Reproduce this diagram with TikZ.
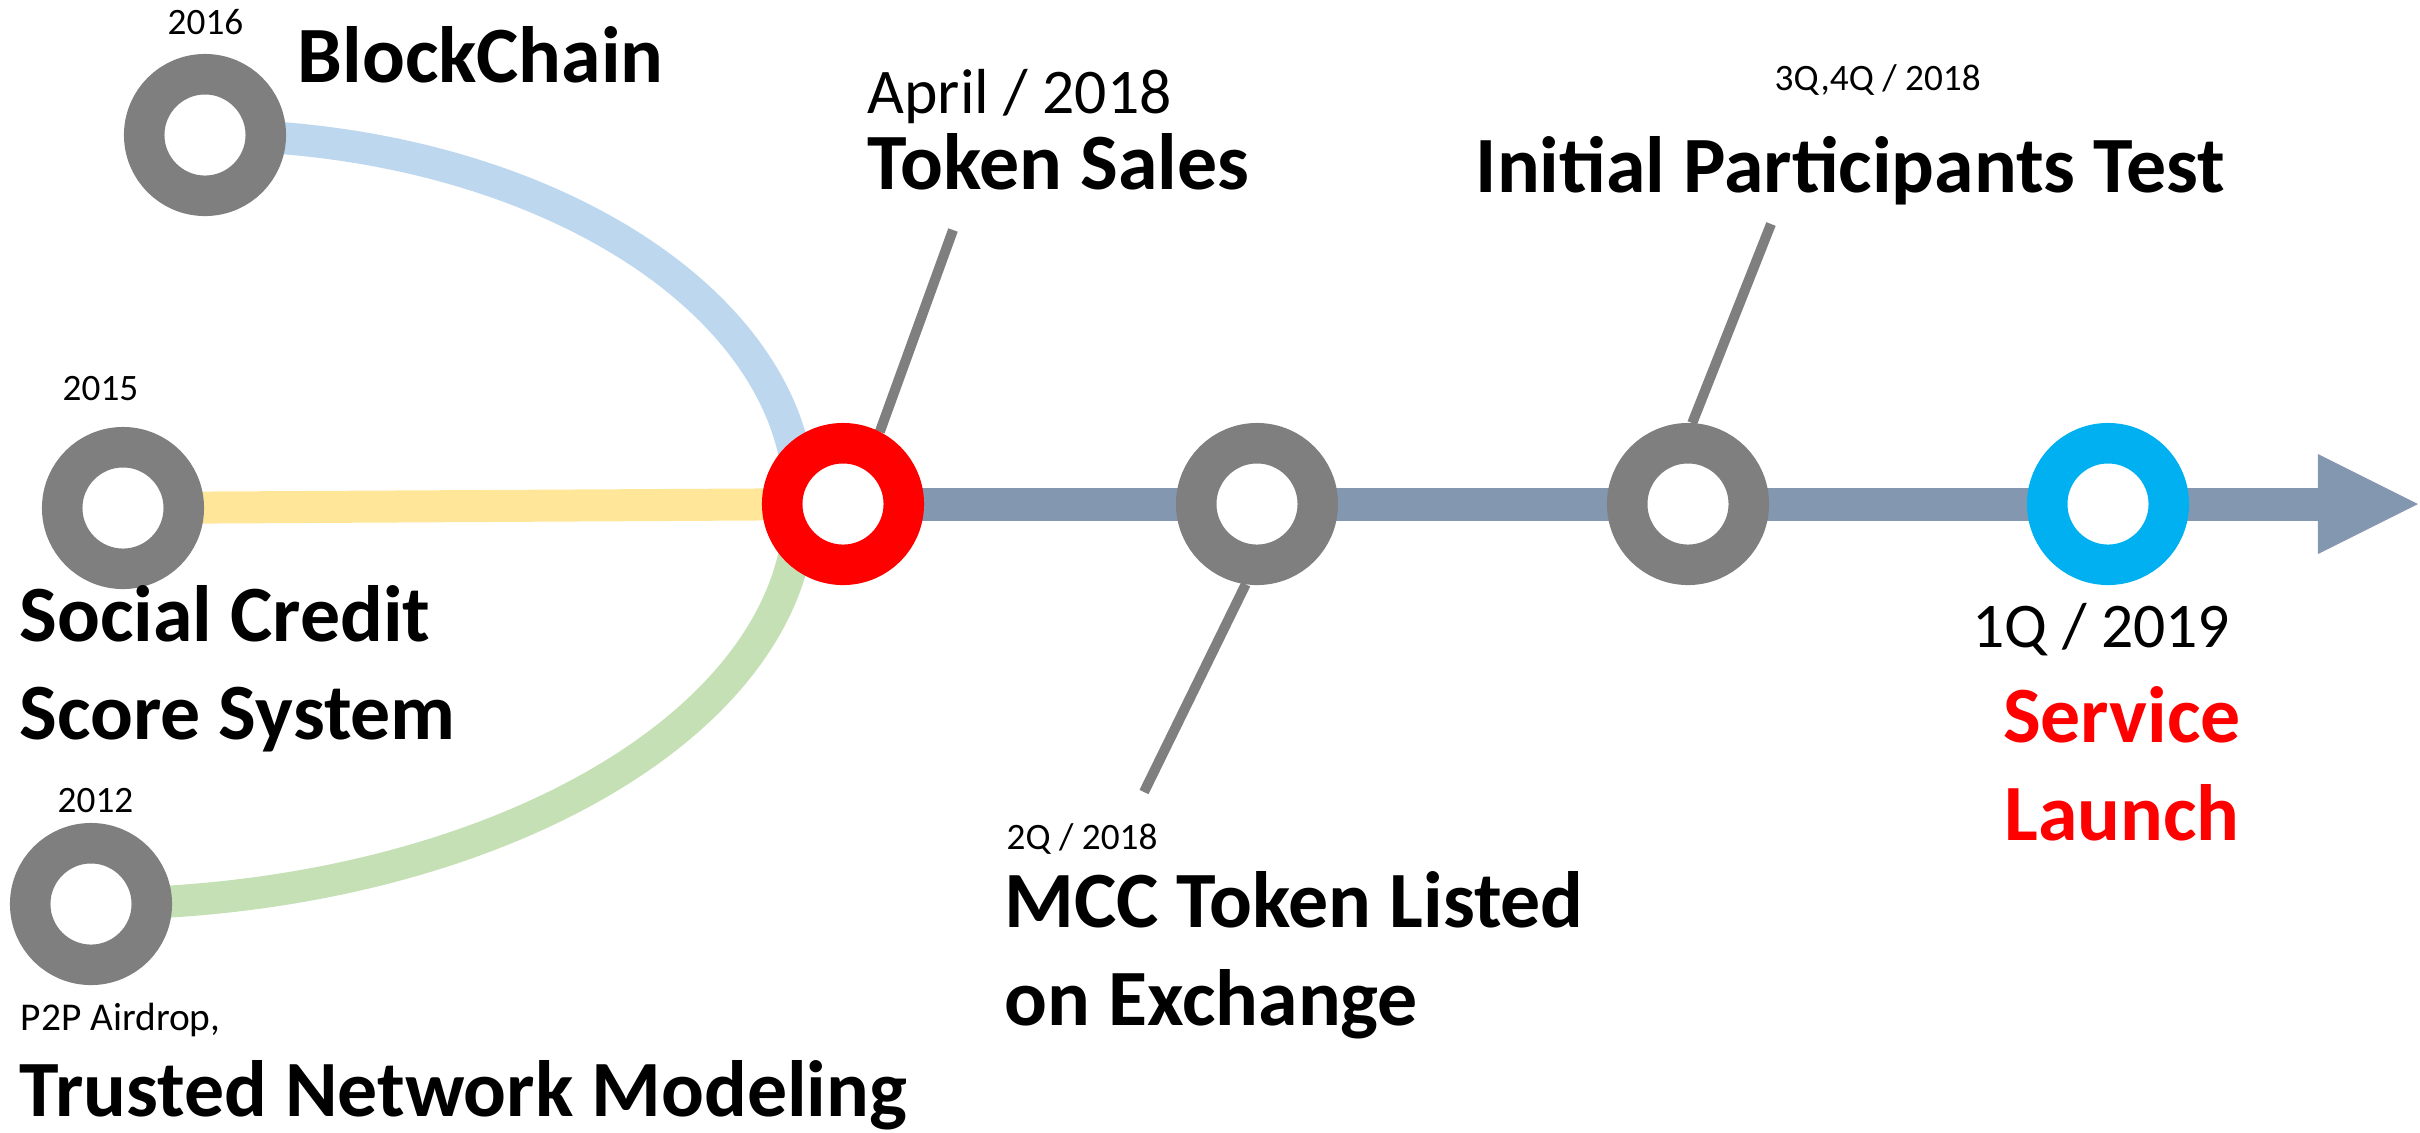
\documentclass[tikz,border=0pt]{standalone}
\usepackage{fontspec}
\setmainfont{Carlito}
\usepackage[dvipsnames]{xcolor}
\usepackage{tikz}
\usetikzlibrary{arrows.meta,backgrounds}

\definecolor{ringgray}{HTML}{7F7F7F}
\definecolor{ringred}{HTML}{FF0000}
\definecolor{ringcyan}{HTML}{00B0F0}
\definecolor{lineblue}{HTML}{BDD7EE}
\definecolor{lineyellow}{HTML}{FFE699}
\definecolor{linegreen}{HTML}{C5E0B4}
\definecolor{timeline}{HTML}{8497B0}

\tikzset{
  ring/.style={circle, draw=ringgray, fill=white, line width=0.405cm, minimum size=1.215cm, inner sep=0pt},
  track/.style={line width=0.32cm},
  leader/.style={draw=ringgray, line width=0.1cm},
  title/.style={font=\bfseries\fontsize{22.7}{27.6}\selectfont, inner sep=0pt, anchor=base west, align=left},
  date/.style={font=\fontsize{18.1}{22}\selectfont, inner sep=0pt, anchor=base west},
  year/.style={font=\fontsize{10.6}{13}\selectfont, inner sep=0pt, anchor=base west},
}

\begin{document}
\begin{tikzpicture}[x=0.01cm, y=-0.01cm]
    \useasboundingbox (0,0) rectangle (2420,1132);
    % stations
    \node[ring] (blockchain) at (205,135) {};
    \node[ring] (social) at (123,508) {};
    \node[ring] (airdrop) at (91,904) {};
    \node[ring, draw=ringred] (sales) at (843,504) {};
    \node[ring] (listing) at (1257,504) {};
    \node[ring] (test) at (1688,504) {};
    \node[ring, draw=ringcyan] (launch) at (2108,504) {};
    \coordinate (merge) at (800,504);
    \coordinate (arrowtip) at (2418,504);
    \coordinate (salesend) at (953,230);
    \coordinate (listingend) at (1144,792);
    \coordinate (testend) at (1771,224);

    \begin{pgfonlayer}{background}
        \draw[track, lineblue] (blockchain.center) .. controls +(328,0) and +(0,-204) .. (merge);
        \draw[track, linegreen] (airdrop.center) .. controls +(391,0) and +(0,221) .. (merge);
        \draw[track, lineyellow] (social.center) -- (sales.center);
        \draw[track, timeline, line width=0.33cm, -{Triangle[length=1cm, width=1cm, line width=0pt]}] (sales.center) -- (arrowtip);
        \draw[leader] (sales.63) -- (salesend);
        \draw[leader] (listing.-98) -- (listingend);
        \draw[leader] (test.87) -- (testend);
    \end{pgfonlayer}

    % labels
    \node[year] (y2016) at (167,34) {2016};
    \node[title] (bctext) at (297,82) {BlockChain};
    \node[year] (y2015) at (62,400) {2015};
    \node[title] (socialtext) at (19,739) {Social Credit\\Score System};
    \node[year] (y2012) at (57,812) {2012};
    \node[year, font=\fontsize{11.2}{13}\selectfont] (airdroptext) at (20,1030) {P2P Airdrop,};
    \node[title] (networktext) at (19,1116) {Trusted Network Modeling};
    \node[date] (salesdate) at (867,113) {April / 2018};
    \node[title] (salestext) at (867,189) {Token Sales};
    \node[year] (testdate) at (1774,90) {3Q,4Q / 2018};
    \node[title] (testtext) at (1475,192) {Initial Participants Test};
    \node[year] (listingdate) at (1006,849) {2Q / 2018};
    \node[title] (listingtext) at (1004,1025) {MCC Token Listed\\on Exchange};
    \node[date] (launchdate) at (1972,647) {1Q / 2019};
    \node[title, anchor=base, align=center, text=ringred] (launchtext) at (2122,840) {Service\\Launch};
\end{tikzpicture}
\end{document}
